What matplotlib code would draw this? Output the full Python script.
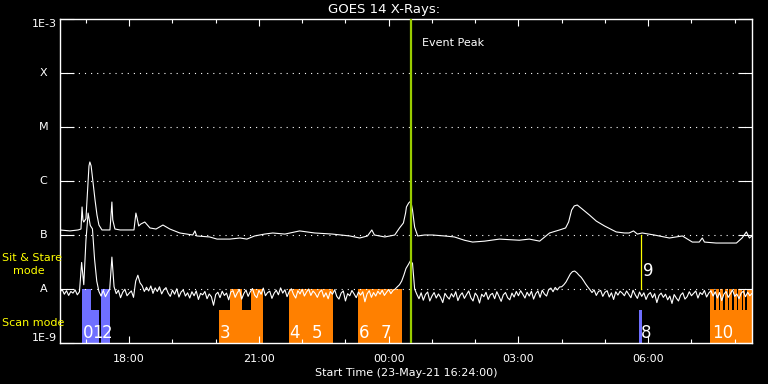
import matplotlib
matplotlib.use('Agg')
import matplotlib.pyplot as plt
import numpy as np

plt.rcParams['font.family'] = ['DejaVu Sans']
plt.rcParams['lines.scale_dashes'] = False

# time axis: hours after the start time 23-May-21 16:24:00
start_hour = 16.4
tick_clock = [18, 21, 24, 27, 30]
tick_labels = ['18:00', '21:00', '00:00', '03:00', '06:00']

# GOES long channel (1-8 A), flux in units of 1e-9 W/m^2
long_t = [0.0, 0.23, 0.42, 0.485, 0.51, 0.53, 0.55, 0.60, 0.65, 0.67, 0.69,
          0.72, 0.76, 0.81, 0.855, 0.90, 0.97, 1.155, 1.18, 1.20, 1.22, 1.27,
          1.39, 1.71, 1.755, 1.78, 1.82, 1.87, 1.96, 2.08, 2.22, 2.38, 2.54,
          2.77, 3.07, 3.12, 3.16, 3.46, 3.63, 3.93, 4.16, 4.32, 4.50, 4.73,
          4.92, 5.20, 5.54, 5.89, 6.30, 6.70, 6.93, 7.11, 7.21, 7.27, 7.51,
          7.74, 7.85, 7.94, 7.99, 8.01, 8.06, 8.11, 8.15, 8.20, 8.27, 8.43,
          8.61, 8.89, 9.12, 9.35, 9.54, 9.82, 10.16, 10.62, 10.85, 11.09,
          11.32, 11.55, 11.69, 11.76, 11.83, 11.89, 11.96, 12.08, 12.24,
          12.40, 12.59, 12.86, 13.05, 13.16, 13.26, 13.35, 13.46, 13.74,
          14.09, 14.39, 14.62, 14.78, 14.85, 14.90, 15.17, 15.64, 15.77,
          15.87, 15.94, 16.0]
long_flux = [124, 119, 124, 129, 330, 190, 174, 200, 1000, 1900, 2250,
             1900, 1000, 445, 235, 153, 124, 124, 235, 408, 190, 129,
             124, 124, 255, 210, 147, 160, 174, 135, 129, 153, 129,
             109, 100, 119, 96, 92, 84, 84, 88, 84, 96, 104,
             109, 104, 119, 109, 104, 96, 88, 96, 124, 100, 92,
             100, 135, 167, 255, 330, 390, 426, 290, 140, 96, 100,
             100, 96, 92, 80, 74, 77, 84, 80, 84, 77,
             109, 124, 135, 174, 290, 345, 359, 300, 235,
             181, 147, 114, 109, 109, 119, 104, 109, 100,
             88, 96, 74, 74, 88, 74, 71, 71, 88,
             114, 88, 96]

# GOES short channel (0.5-4 A), 3 minute cadence, units of 1e-9 W/m^2
short_flux = [
    8.8, 9.8, 8.0, 9.3, 7.6, 9.0, 8.4, 9.6, 7.8, 8.9, 31.0, 12.0, 80.0, 255.0, 150.0, 130.0, 35.0, 14.0, 9.0, 7.4,
    9.4, 7.2, 8.6, 10.0, 39.0, 11.0, 8.2, 9.5, 6.9, 8.7, 9.9, 7.5, 8.4, 9.2, 7.0, 14.0, 18.0, 13.0, 11.5, 9.0,
    10.8, 9.2, 11.4, 8.3, 10.5, 9.0, 11.0, 8.1, 9.7, 10.6, 8.4, 7.3, 9.5, 8.0, 10.1, 7.1, 8.8, 9.6, 7.4, 8.5,
    6.8, 8.9, 7.5, 9.2, 6.4, 8.3, 7.8, 9.0, 6.6, 8.1, 7.2, 5.0, 7.9, 8.7, 6.9, 9.1, 7.6, 8.4, 6.3, 8.8,
    9.3, 7.0, 8.5, 9.8, 6.5, 8.2, 9.6, 7.3, 8.9, 10.2, 7.7, 6.9, 9.4, 8.0, 10.4, 7.5, 8.6, 9.1, 6.7, 8.3,
    9.5, 7.8, 10.5, 8.4, 9.7, 7.2, 9.0, 10.1, 7.9, 6.8, 9.3, 8.1, 9.9, 7.4, 8.8, 10.0, 7.6, 9.2, 8.3, 7.0,
    8.7, 9.6, 7.1, 8.5, 6.6, 9.0, 8.0, 9.7, 7.3, 6.5, 8.4, 9.2, 6.0, 8.2, 7.5, 9.4, 8.1, 6.9, 8.8, 7.7,
    8.9, 5.8, 8.1, 9.3, 7.0, 8.6, 7.4, 9.1, 8.0, 9.5, 7.6, 8.7, 9.8, 8.2, 9.4, 10.0, 11.0, 12.0, 14.0, 18.0,
    24.0, 28.0, 33.0, 30.0, 10.0, 8.0, 6.6, 8.5, 6.2, 7.9, 8.8, 6.0, 7.4, 8.6, 6.8, 8.1, 7.0, 5.6, 8.3, 7.2,
    6.5, 8.2, 7.1, 8.9, 6.1, 7.6, 8.5, 6.7, 7.9, 9.2, 6.9, 6.0, 8.4, 7.4, 5.5, 8.0, 7.2, 8.7, 6.4, 7.8,
    8.3, 6.6, 8.9, 7.3, 5.9, 7.8, 8.6, 6.9, 6.3, 8.4, 7.1, 9.0, 7.5, 9.3, 8.0, 6.8, 8.7, 7.4, 9.1, 6.5,
    8.2, 9.2, 7.0, 9.5, 8.1, 7.4, 9.8, 10.4, 8.9, 10.7, 9.6, 10.9, 11.0, 12.0, 13.5, 16.0, 19.0, 21.0, 21.5, 20.0,
    18.0, 16.5, 14.5, 12.5, 11.0, 9.8, 8.6, 9.6, 7.6, 9.0, 9.4, 7.3, 8.7, 9.3, 7.1, 8.5, 6.4, 8.9, 7.7, 9.1,
    8.4, 7.5, 9.2, 8.0, 6.9, 9.5, 7.8, 6.7, 8.8, 7.3, 8.5, 6.4, 7.9, 8.6, 6.9, 8.2, 5.6, 7.6, 8.4, 7.0,
    8.0, 6.3, 7.4, 5.4, 7.9, 6.8, 6.0, 7.7, 8.5, 6.5, 7.2, 8.9, 7.5, 8.3, 9.2, 6.8, 8.6, 7.9, 9.4, 7.1,
    8.4, 9.3, 7.4, 8.9, 6.8, 8.6, 6.1, 8.0, 9.0, 7.0, 8.2, 9.6, 7.3, 8.1, 6.6, 8.4, 9.1, 7.2, 8.7, 7.5,
    8.3]
short_t = np.arange(len(short_flux)) / 20.0

# observation blocks (hours after start), top level in 1e-9 W/m^2
obs_start = [0.508, 0.716, 0.947, 3.672, 3.926, 4.203, 4.411, 5.289, 5.797,
             6.882, 7.390, 13.395, 15.035]
obs_end = [0.716, 0.901, 1.155, 3.926, 4.203, 4.411, 4.688, 5.797, 6.305,
           7.390, 7.898, 13.464, 16.005]
obs_top = [10, 4.1, 10, 4.1, 10, 4.1, 10, 10, 10, 10, 10, 4.1, 4.1]
obs_kind = ['sit', 'sit', 'sit', 'scan', 'scan', 'scan', 'scan', 'scan', 'scan',
            'scan', 'scan', 'sit', 'scan']

# short repeated rasters at the end of obs 10
raster_start = [15.03, 15.16, 15.27, 15.37, 15.47, 15.58, 15.68, 15.80, 15.88]
raster_end = [15.12, 15.23, 15.33, 15.44, 15.54, 15.65, 15.76, 15.84, 16.005]

obs_labels = ['0', '1', '2', '3', '4', '5', '6', '7', '8', '10']
obs_label_t = [0.53, 0.74, 0.97, 3.69, 5.31, 5.82, 6.90, 7.41, 13.42, 15.08]

obs9_t = 13.441
event_peak_t = 8.11

goes_levels = [1e-9, 1e-8, 1e-7, 1e-6, 1e-5, 1e-4, 1e-3]
goes_names = ['1E-9', 'A', 'B', 'C', 'M', 'X', '1E-3']

kind_color = {'sit': '#6f6fff', 'scan': '#ff8000'}

fig = plt.figure(figsize=(7.68, 3.84), dpi=100, facecolor='black')
ax = fig.add_axes([60 / 768, 41 / 384, 692 / 768, 324 / 384])
ax.set_facecolor('black')
ax.set_yscale('log')
ax.set_xlim(0, 16)
ax.set_ylim(1e-9, 1e-3)

# observation blocks
for s, e, top, kind in zip(obs_start, obs_end, obs_top, obs_kind):
    ax.bar(s, top * 1e-9 - 1e-9, width=e - s, bottom=1e-9, align='edge',
           color=kind_color[kind], linewidth=0, zorder=1)
for s, e in zip(raster_start, raster_end):
    ax.bar(s, 10e-9 - 1e-9, width=e - s, bottom=1e-9, align='edge',
           color=kind_color['scan'], linewidth=0, zorder=1)

# flare level grid
for lev in goes_levels[1:-1]:
    ax.axhline(lev, color='white', linestyle=(0, (0.8, 3.6)), linewidth=0.8,
               zorder=2)

ax.plot(long_t, np.array(long_flux) * 1e-9, color='white', linewidth=0.8,
        zorder=3)
ax.plot(short_t, np.array(short_flux) * 1e-9, color='white', linewidth=0.8,
        zorder=3)

for txt, t in zip(obs_labels, obs_label_t):
    ax.text(t, 1.55e-9, txt, color='white', fontsize=12, ha='left',
            va='center', zorder=4)

ax.plot([obs9_t, obs9_t], [1e-8, 1e-7], color='yellow', linewidth=0.9,
        zorder=4)
ax.text(obs9_t + 0.04, 2.15e-8, '9', color='white', fontsize=12,
        ha='left', va='center', zorder=4)

ax.axvline(event_peak_t, color='#99cc00', linewidth=1.6, zorder=5)
ax.text(event_peak_t + 0.25, 3.6e-4, 'Event Peak', color='white',
        fontsize=8, ha='left', va='center', zorder=5)

# axes styling
for sp in ax.spines.values():
    sp.set_color('white')
    sp.set_linewidth(1.0)

ax.set_yticks(goes_levels)
ax.yaxis.set_minor_locator(matplotlib.ticker.NullLocator())
ax.set_yticklabels([])
ax.tick_params(axis='y', which='major', direction='in', length=10,
               width=0.8, color='white', left=True, right=True)
ytrans = ax.get_yaxis_transform()
for lev, name in zip(goes_levels, goes_names):
    if name == '1E-3':
        ax.text(-0.0045, lev, name, transform=ytrans, color='white',
                fontsize=8, ha='right', va='top')
    elif name == '1E-9':
        ax.text(-0.0045, lev, name, transform=ytrans, color='white',
                fontsize=8, ha='right', va='bottom')
    else:
        ax.text(-0.0235, lev, name, transform=ytrans, color='white',
                fontsize=8, ha='center', va='center')

major_t = [h - start_hour for h in tick_clock]
minor_t = [h - start_hour for h in range(17, 33)]
ax.set_xticks(major_t)
ax.set_xticklabels(tick_labels, color='white', fontsize=8)
ax.set_xticks(minor_t, minor=True)
ax.tick_params(axis='x', which='major', direction='in', length=5,
               width=0.8, color='white', top=True, bottom=True, pad=8)
ax.tick_params(axis='x', which='minor', direction='in', length=3,
               width=0.8, color='white', top=True, bottom=True)

ax.set_xlabel('Start Time (23-May-21 16:24:00)', color='white', fontsize=8,
              labelpad=3)
fig.text(0.5, 1 - 9 / 384, 'GOES 14 X-Rays:', color='white', fontsize=9.5,
         ha='center', va='center')

fig.text(2 / 768, 1 - 258 / 384, 'Sit & Stare', color='yellow', fontsize=8,
         ha='left', va='center')
fig.text(13 / 768, 1 - 271 / 384, 'mode', color='yellow', fontsize=8,
         ha='left', va='center')
fig.text(2 / 768, 1 - 323 / 384, 'Scan mode', color='yellow', fontsize=8,
         ha='left', va='center')

fig.savefig('out.png', dpi=100, facecolor='black')
